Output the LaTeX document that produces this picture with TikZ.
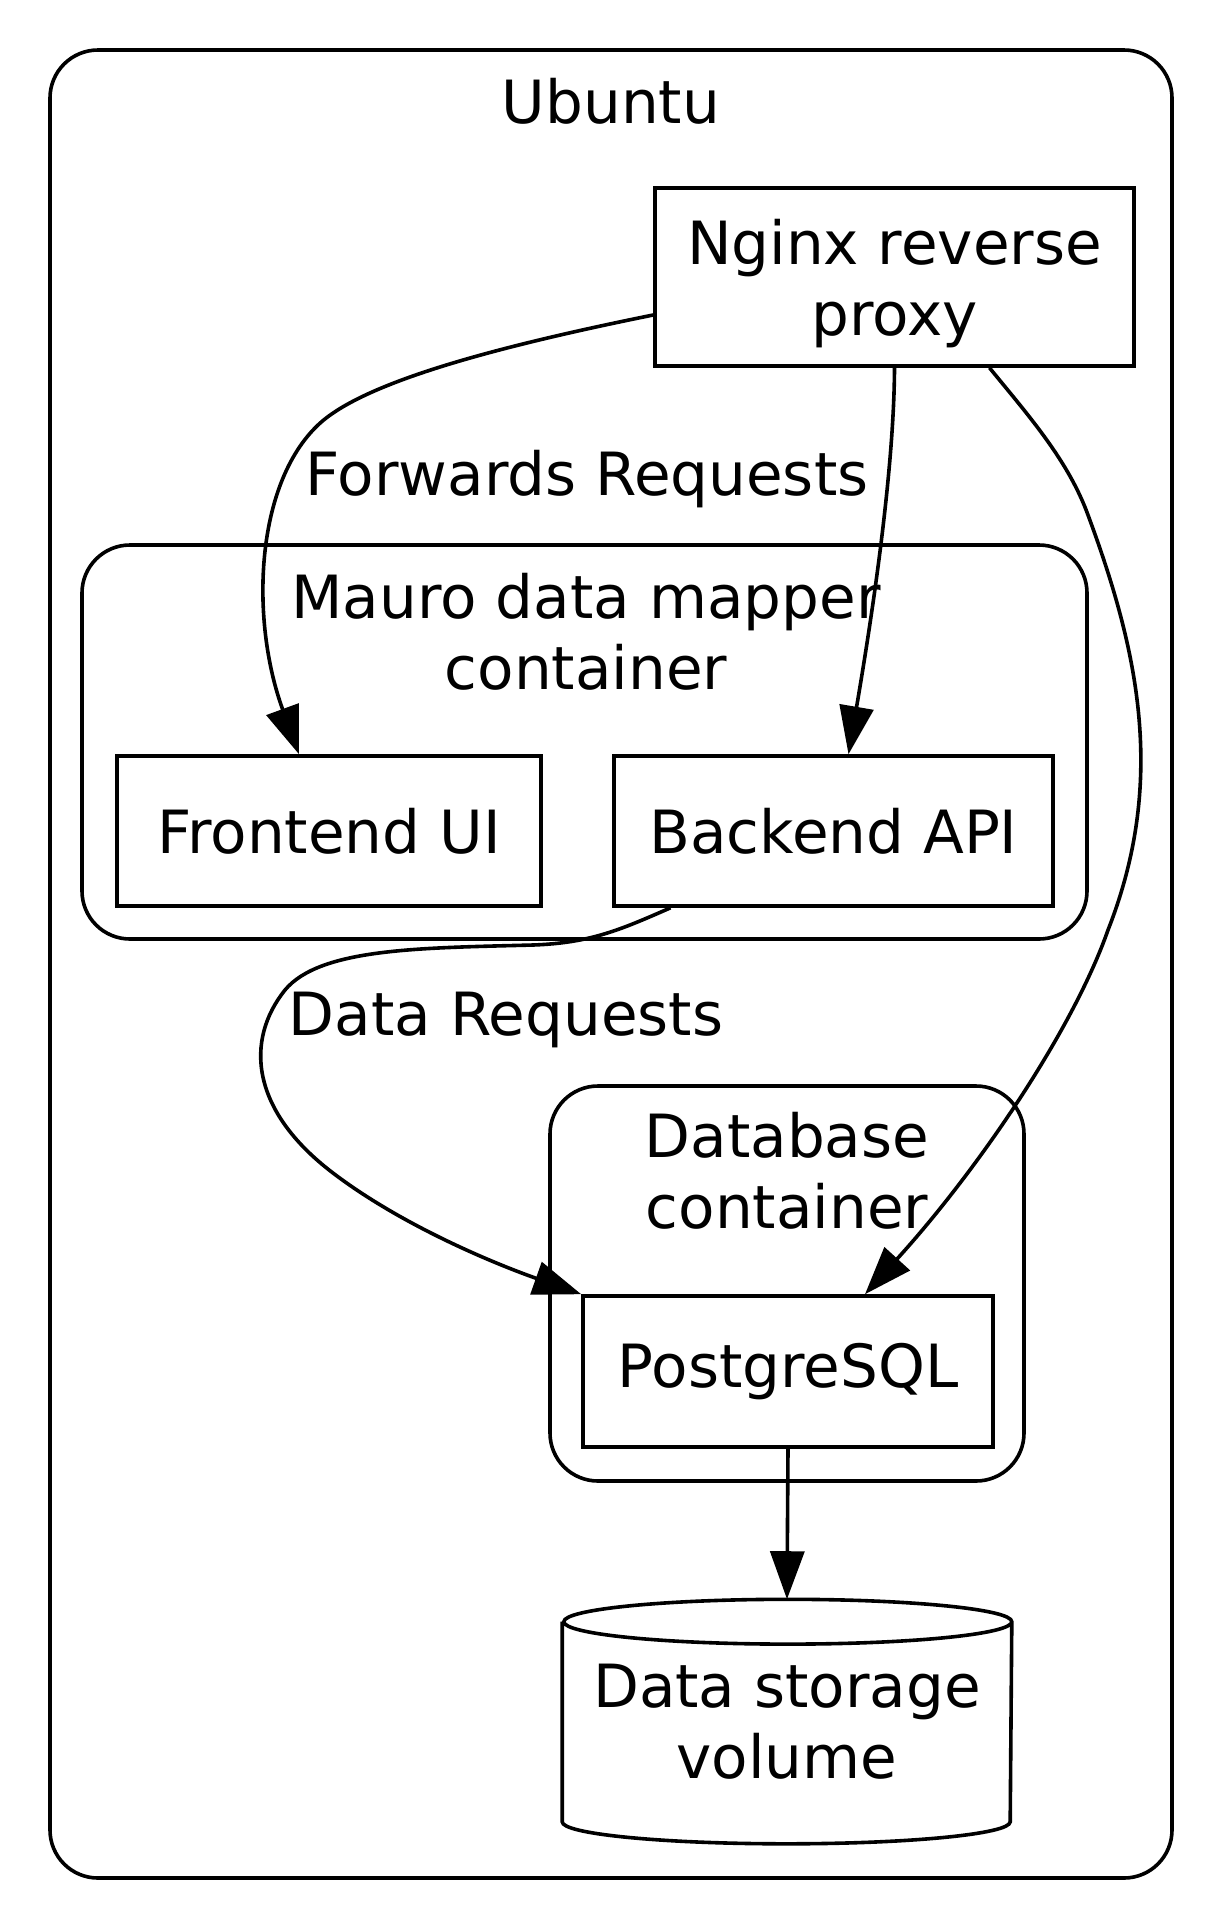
\documentclass[tikz,border=0pt]{standalone}
\usepackage{fontspec}
\setmainfont{DejaVu Sans}
\usetikzlibrary{arrows.meta,calc}

\begin{document}
\begin{tikzpicture}[x=0.25pt,y=-0.25pt,
    every node/.style={font=\fontsize{14.9}{17.75}\selectfont},
    box/.style={draw,line width=0.9pt,inner sep=0pt},
    cluster/.style={draw,line width=0.9pt,rounded corners=12pt},
    edge/.style={line width=0.9pt,-{Triangle[length=12pt,width=8.5pt]}}]
  \useasboundingbox (0,0) rectangle (1221,1928);
  \draw [cluster] (50,50) rectangle (1172,1878);
  \draw [cluster] (82,545) rectangle (1087,939);
  \draw [cluster] (550,1086) rectangle (1024,1481);
  \node [anchor=base] (ubuntu) at (611,123) {Ubuntu};
  \node [align=center] (mauro) at (586,631.5) {Mauro data mapper\\container};
  \node [align=center] (db) at (787,1171) {Database\\container};
  \node [box, minimum width=119.75pt, minimum height=44.5pt, align=center, text depth=0pt] (nginx) at (894.5,277) {Nginx reverse\\proxy};
  \node [box, minimum width=106pt, minimum height=37.5pt] (front) at (329,831) {Frontend UI};
  \node [box, minimum width=109.75pt, minimum height=37.5pt] (back) at (833.5,831) {Backend API};
  \node [box, minimum width=102.5pt, minimum height=37.75pt] (pg) at (788,1371.5) {PostgreSQL};
  \node [minimum width=112pt, minimum height=60.75pt, inner sep=0pt, align=center] (vol) at (787,1721.5) {Data storage\\volume};
  \draw [line width=0.9pt] ($(vol.north west)+(0,22.5)$) -- ($(vol.south west)+(0,-22)$)
    arc [start angle=180, end angle=360, x radius=56pt, y radius=5.5pt]
    -- ($(vol.north east)+(0,22.5)$)
    arc [start angle=0, end angle=180, x radius=56pt, y radius=5.6pt]
    arc [start angle=180, end angle=360, x radius=56pt, y radius=5.6pt];
  \node [anchor=base] (fwd) at (587,495) {Forwards Requests};
  \node [anchor=base] (dreq) at (506,1035) {Data Requests};
  \draw [edge] ($(nginx.west)+(0,38)$) .. controls (480,350) and (360,385) .. (318,425)
    .. controls (255,485) and (250,620) .. ($(front.north)+(-30,0)$);
  \draw [edge] (nginx.south) .. controls (894,480) and (868,640) .. ($(back.north)+(15,0)$);
  \draw [edge] ($(nginx.south)+(95,0)$) .. controls (1028,415) and (1068,460) .. (1088,515)
    .. controls (1138,650) and (1167,780) .. (1108,930)
    .. controls (1073,1030) and (978,1170) .. ($(pg.north)+(77,0)$);
  \draw [edge] ($(back.south)+(-163,0)$) .. controls (620,930) and (590,943) .. (533,945)
    .. controls (420,948) and (320,948) .. (285,990)
    .. controls (245,1040) and (250,1110) .. (333,1173)
    .. controls (400,1224) and (490,1262) .. (pg.north west);
  \draw [edge] (pg.south) -- (vol.north);
\end{tikzpicture}
\end{document}
